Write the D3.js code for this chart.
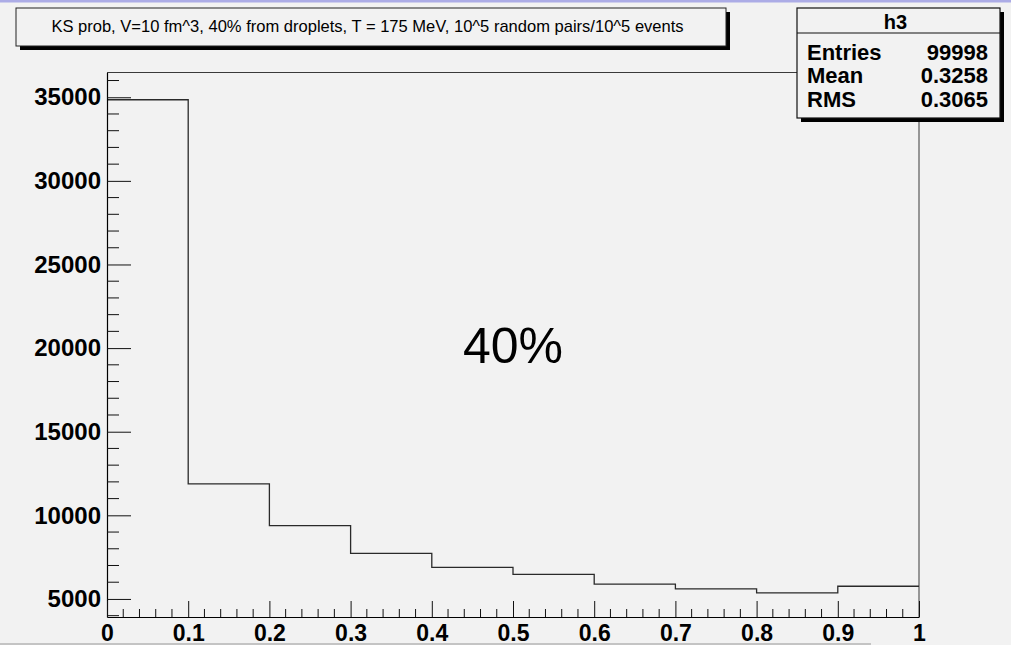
<!DOCTYPE html>
<html>
<head>
<meta charset="utf-8">
<script src="https://cdn.jsdelivr.net/npm/d3@7"></script>
<style>
  html, body { margin: 0; padding: 0; background: #f2f2f2; }
  svg { display: block; }
</style>
</head>
<body>
<svg id="chart" width="1011" height="645"></svg>
<script>
// Histogram h3: KS probability, 10 bins on [0, 1]
const binEdges = [0, 0.1, 0.2, 0.3, 0.4, 0.5, 0.6, 0.7, 0.8, 0.9, 1];
const binCounts = [34850, 11880, 9380, 7730, 6890, 6470, 5890, 5600, 5360, 5760];

const xTickValues = [0, 0.1, 0.2, 0.3, 0.4, 0.5, 0.6, 0.7, 0.8, 0.9, 1];
const xTickLabels = ["0", "0.1", "0.2", "0.3", "0.4", "0.5", "0.6", "0.7", "0.8", "0.9", "1"];
const yTickValues = [5000, 10000, 15000, 20000, 25000, 30000, 35000];
const yTickLabels = ["5000", "10000", "15000", "20000", "25000", "30000", "35000"];
const yMinorValues = [4000, 6000, 7000, 8000, 9000, 11000, 12000, 13000, 14000, 16000, 17000, 18000, 19000,
  21000, 22000, 23000, 24000, 26000, 27000, 28000, 29000, 31000, 32000, 33000, 34000, 36000];
const xMinorValues = [];
for (let i = 0; i < 10; i++) for (let j = 1; j < 5; j++) xMinorValues.push(+(i / 10 + j / 50).toFixed(2));

const titleText = "KS prob, V=10 fm^3, 40% from droplets, T = 175 MeV, 10^5 random pairs/10^5 events";
const statsName = "h3";
const statsLabels = ["Entries", "Mean", "RMS"];
const statsValues = ["99998", "0.3258", "0.3065"];
const annotation = "40%";

const yDomain = [3920, 36480];

const svg = d3.select("#chart");
const W = 1011, H = 645;
const frame = { left: 107, right: 919, top: 72.5, bottom: 617 };

const x = d3.scaleLinear().domain([0, 1]).range([frame.left, frame.right]);
const y = d3.scaleLinear().domain(yDomain).range([frame.bottom, frame.top]);

// page background and window edges
svg.append("rect").attr("width", W).attr("height", H).attr("fill", "#f2f2f2");
svg.append("rect").attr("x", 0).attr("y", 0).attr("width", W).attr("height", 2.5).attr("fill", "#acace6");
svg.append("rect").attr("x", 0).attr("y", 643).attr("width", 871).attr("height", 2).attr("fill", "#c4c4c4");

// frame (top and right)
svg.append("path")
  .attr("d", `M${frame.left},${frame.top}H${frame.right}V${frame.bottom}`)
  .attr("fill", "none").attr("stroke", "#3a3a3a").attr("stroke-width", 1);

// histogram outline
const pts = [];
binCounts.forEach((c, i) => { pts.push([binEdges[i], c]); pts.push([binEdges[i + 1], c]); });
const line = d3.line().x(d => x(d[0])).y(d => y(d[1]));
svg.append("path").datum(pts).attr("d", line)
  .attr("fill", "none").attr("stroke", "#2a2a2a").attr("stroke-width", 1.3);

const axisFont = "'Liberation Sans', Arial, Helvetica, sans-serif";

// y axis: major ticks, minor ticks, labels
const yAxis = d3.axisLeft(y).tickValues(yTickValues)
  .tickFormat((d, i) => yTickLabels[i]).tickSizeInner(-24).tickSizeOuter(0).tickPadding(6);
const gy = svg.append("g").attr("transform", `translate(${frame.left},0)`).call(yAxis);
gy.append("g").selectAll("line").data(yMinorValues).join("line")
  .attr("x1", 0).attr("x2", 12).attr("y1", d => y(d)).attr("y2", d => y(d))
  .attr("stroke", "#111");

// x axis: major ticks, minor ticks, labels
const xAxis = d3.axisBottom(x).tickValues(xTickValues)
  .tickFormat((d, i) => xTickLabels[i]).tickSizeInner(-16).tickSizeOuter(0).tickPadding(8);
const gx = svg.append("g").attr("transform", `translate(0,${frame.bottom})`).call(xAxis);
gx.append("g").selectAll("line").data(xMinorValues).join("line")
  .attr("x1", d => x(d)).attr("x2", d => x(d)).attr("y1", 0).attr("y2", -8)
  .attr("stroke", "#111");

[gx, gy].forEach(g => {
  g.select(".domain").attr("stroke", "#000").attr("stroke-width", 1.2);
  g.selectAll(".tick line").attr("stroke", "#111");
  g.selectAll("text").attr("fill", "#000")
    .style("font-family", axisFont).style("font-weight", "bold").style("font-size", "24px");
});
gx.selectAll("text").style("font-size", "23px");

// title box with drop shadow
const tb = { x: 16, y: 8, w: 710, h: 38 };
svg.append("rect").attr("x", tb.x + 4).attr("y", tb.y + 4).attr("width", tb.w).attr("height", tb.h).attr("fill", "#000");
svg.append("rect").attr("x", tb.x).attr("y", tb.y).attr("width", tb.w).attr("height", tb.h)
  .attr("fill", "#f2f2f2").attr("stroke", "#222").attr("stroke-width", 1);
const title = svg.append("text")
  .attr("x", 367.5).attr("y", 31.5).attr("text-anchor", "middle")
  .style("font-family", axisFont).style("font-size", "13px").attr("fill", "#000")
  .text(titleText);
const tw = title.node().getComputedTextLength();
title.style("font-size", (13 * 633 / tw).toFixed(2) + "px");

// statistics box
const sb = { x: 797, y: 8, w: 203, h: 110 };
svg.append("rect").attr("x", sb.x + 4).attr("y", sb.y + 4).attr("width", sb.w).attr("height", sb.h).attr("fill", "#000");
svg.append("rect").attr("x", sb.x).attr("y", sb.y).attr("width", sb.w).attr("height", sb.h)
  .attr("fill", "#f2f2f2").attr("stroke", "#111").attr("stroke-width", 1.2);
svg.append("line").attr("x1", sb.x).attr("x2", sb.x + sb.w).attr("y1", 33).attr("y2", 33)
  .attr("stroke", "#111").attr("stroke-width", 1.2);
svg.append("text").attr("x", sb.x + sb.w / 2 - 3).attr("y", 29).attr("text-anchor", "middle")
  .style("font-family", axisFont).style("font-weight", "bold").style("font-size", "20px")
  .text(statsName);
const rowY = [59.5, 83, 106.5];
statsLabels.forEach((lab, i) => {
  svg.append("text").attr("x", 807).attr("y", rowY[i])
    .style("font-family", axisFont).style("font-weight", "bold").style("font-size", "22px")
    .text(lab);
  svg.append("text").attr("x", 988).attr("y", rowY[i]).attr("text-anchor", "end")
    .style("font-family", axisFont).style("font-weight", "bold").style("font-size", "22px")
    .text(statsValues[i]);
});

// annotation
svg.append("text").attr("x", 513).attr("y", 362.5).attr("text-anchor", "middle")
  .style("font-family", axisFont).style("font-size", "50px").attr("fill", "#000")
  .text(annotation);
</script>
</body>
</html>
